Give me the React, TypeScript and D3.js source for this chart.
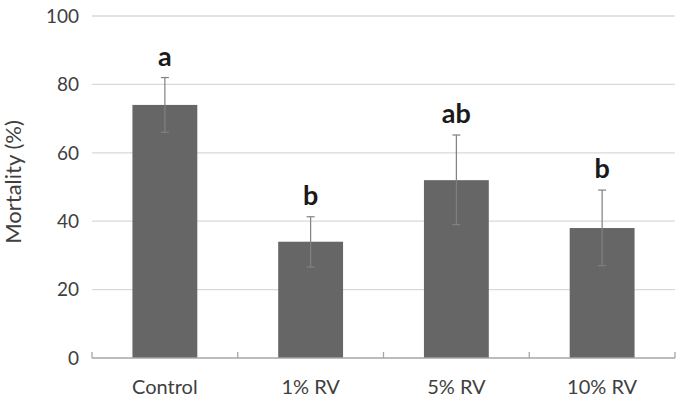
import React, {useEffect, useRef} from "react";
import * as d3 from "d3";

const categories = ["Control", "1% RV", "5% RV", "10% RV"];
const mortality = [74, 34, 52, 38];
const errLow = [66, 26.6, 39, 27];
const errHigh = [82, 41.3, 65.2, 49.1];
const letters = ["a", "b", "ab", "b"];
const yTicks = [0, 20, 40, 60, 80, 100];

const W = 683;
const H = 400;
const M = {top: 16, right: 8, bottom: 42, left: 92};
const FONT = "Lato, 'Open Sans', sans-serif";

export default function App() {
  const ref = useRef<SVGSVGElement>(null);

  useEffect(() => {
    const svg = d3.select(ref.current);
    svg.selectAll("*").remove();

    const x = d3
      .scaleBand<string>()
      .domain(categories)
      .range([M.left, W - M.right]);
    const y = d3.scaleLinear().domain([0, 100]).range([H - M.bottom, M.top]);
    const barW = x.bandwidth() * 0.445;
    const cx = (c: string) => (x(c) as number) + x.bandwidth() / 2;

    // gridlines
    svg
      .append("g")
      .selectAll("line")
      .data(yTicks.filter((t) => t > 0))
      .join("line")
      .attr("x1", M.left)
      .attr("x2", W - M.right)
      .attr("y1", (d) => y(d))
      .attr("y2", (d) => y(d))
      .style("stroke", "#d9d9d9")
      .style("stroke-width", 1.3);

    // y tick labels
    svg
      .append("g")
      .selectAll("text")
      .data(yTicks)
      .join("text")
      .attr("x", M.left - 13)
      .attr("y", (d) => y(d))
      .attr("dy", "0.36em")
      .attr("text-anchor", "end")
      .style("font-family", FONT)
      .style("font-size", "19px")
      .style("fill", "#404040")
      .text((d) => d);

    // bars
    svg
      .append("g")
      .selectAll("rect")
      .data(categories)
      .join("rect")
      .attr("x", (d) => cx(d) - barW / 2)
      .attr("width", barW)
      .attr("y", (d, i) => y(mortality[i]))
      .attr("height", (d, i) => y(0) - y(mortality[i]))
      .style("fill", "#666666");

    // x axis line with ticks at category boundaries
    const base = y(0);
    svg
      .append("line")
      .attr("x1", M.left)
      .attr("x2", W - M.right)
      .attr("y1", base)
      .attr("y2", base)
      .style("stroke", "#a6a6a6")
      .style("stroke-width", 1.3);
    const bounds = categories.map((c) => x(c) as number).concat([W - M.right]);
    svg
      .append("g")
      .selectAll("line")
      .data(bounds)
      .join("line")
      .attr("x1", (d) => d)
      .attr("x2", (d) => d)
      .attr("y1", base)
      .attr("y2", base - 6)
      .style("stroke", "#a6a6a6")
      .style("stroke-width", 1.3);

    // error bars
    const eb = svg.append("g").style("stroke", "#808080").style("stroke-width", 1.2);
    categories.forEach((c, i) => {
      const xc = cx(c);
      eb.append("line").attr("x1", xc).attr("x2", xc).attr("y1", y(errLow[i])).attr("y2", y(errHigh[i]));
      eb.append("line").attr("x1", xc - 4).attr("x2", xc + 4).attr("y1", y(errLow[i])).attr("y2", y(errLow[i]));
      eb.append("line").attr("x1", xc - 4).attr("x2", xc + 4).attr("y1", y(errHigh[i])).attr("y2", y(errHigh[i]));
    });

    // significance letters
    svg
      .append("g")
      .selectAll("text")
      .data(categories)
      .join("text")
      .attr("x", (d) => cx(d))
      .attr("y", (d, i) => y(errHigh[i]) - 12)
      .attr("text-anchor", "middle")
      .style("font-family", FONT)
      .style("font-weight", "bold")
      .style("font-size", "27px")
      .style("fill", "#1a1a1a")
      .text((d, i) => letters[i]);

    // x labels
    svg
      .append("g")
      .selectAll("text")
      .data(categories)
      .join("text")
      .attr("x", (d) => cx(d))
      .attr("y", H - 6)
      .attr("text-anchor", "middle")
      .style("font-family", FONT)
      .style("font-size", "20px")
      .style("fill", "#404040")
      .text((d) => d);

    // y axis title
    svg
      .append("text")
      .attr("transform", "translate(21,182) rotate(-90)")
      .attr("text-anchor", "middle")
      .style("font-family", FONT)
      .style("font-size", "22px")
      .style("fill", "#404040")
      .text("Mortality (%)");
  }, []);

  return (
    <svg
      ref={ref}
      width={W}
      height={H}
      style={{position: "absolute", left: 0, top: 0, background: "#fff"}}
    />
  );
}
